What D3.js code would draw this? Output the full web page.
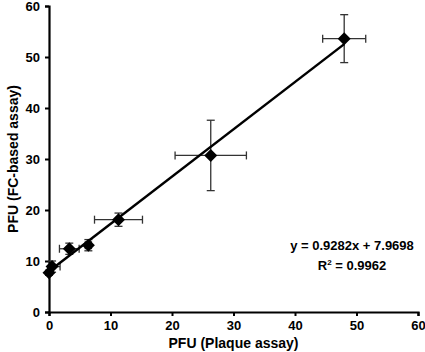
<!DOCTYPE html>
<html>
<head>
<meta charset="utf-8">
<script src="https://cdn.jsdelivr.net/npm/d3@7"></script>
<style>
  body { margin: 0; background: #fff; }
  svg text { font-family: "Liberation Sans", Arial, sans-serif; font-weight: bold; fill: #000; }
</style>
</head>
<body>
<script>
// values
var plaque = [0, 0.5, 3.3, 6.4, 11.3, 26.3, 48.0];
var fcAssay = [7.7, 8.9, 12.4, 13.1, 18.1, 30.7, 53.6];
var plaqueErr = [0.3, 1.3, 1.6, 0.5, 3.9, 5.8, 3.5];
var fcErr = [0.5, 1.1, 1.1, 1.1, 1.3, 6.9, 4.7];
var xTicks = [0, 10, 20, 30, 40, 50, 60];
var yTicks = [0, 10, 20, 30, 40, 50, 60];
var slope = 0.9282, intercept = 7.9698;

var width = 425, height = 352;
var margin = { top: 6, right: 7, bottom: 40, left: 49 };

var svg = d3.select("body")
    .append("svg")
    .attr("width", width)
    .attr("height", height);

var x = d3.scaleLinear()
    .domain([0, 60])
    .range([margin.left, width - margin.right]);

var y = d3.scaleLinear()
    .domain([0, 60])
    .range([height - margin.bottom, margin.top]);

var data = plaque.map(function (d, i) {
    return { x: d, y: fcAssay[i], ex: plaqueErr[i], ey: fcErr[i] };
});

// axes
var xAxis = svg.append("g")
    .attr("transform", "translate(0," + y(0) + ")")
    .call(d3.axisBottom(x).tickValues(xTicks).tickSize(4).tickPadding(5));

var yAxis = svg.append("g")
    .attr("transform", "translate(" + x(0) + ",0)")
    .call(d3.axisLeft(y).tickValues(yTicks).tickSize(4).tickPadding(5));

[xAxis, yAxis].forEach(function (g) {
    g.select(".domain").attr("stroke", "#000").attr("stroke-width", 2.2);
    g.selectAll(".tick line").attr("stroke", "#000").attr("stroke-width", 2);
    g.selectAll(".tick text").style("font-size", "13px").attr("fill", "#000");
});

// axis titles
svg.append("text")
    .attr("x", (x(0) + x(60)) / 2)
    .attr("y", 348)
    .attr("text-anchor", "middle")
    .style("font-size", "14px")
    .text("PFU (Plaque assay)");

svg.append("text")
    .attr("transform", "translate(18," + ((y(0) + y(60)) / 2) + ") rotate(-90)")
    .attr("text-anchor", "middle")
    .style("font-size", "14px")
    .text("PFU (FC-based assay)");

// error bars
var cap = 4;
var bars = svg.append("g")
    .attr("stroke", "#333")
    .attr("stroke-width", 1.3)
    .attr("fill", "none");

data.forEach(function (d) {
    // horizontal
    bars.append("line")
        .attr("x1", x(Math.max(0, d.x - d.ex))).attr("x2", x(d.x + d.ex))
        .attr("y1", y(d.y)).attr("y2", y(d.y));
    if (d.x - d.ex >= 0) {
        bars.append("line")
            .attr("x1", x(d.x - d.ex)).attr("x2", x(d.x - d.ex))
            .attr("y1", y(d.y) - cap).attr("y2", y(d.y) + cap);
    }
    bars.append("line")
        .attr("x1", x(d.x + d.ex)).attr("x2", x(d.x + d.ex))
        .attr("y1", y(d.y) - cap).attr("y2", y(d.y) + cap);
    // vertical
    bars.append("line")
        .attr("x1", x(d.x)).attr("x2", x(d.x))
        .attr("y1", y(d.y - d.ey)).attr("y2", y(d.y + d.ey));
    [d.y - d.ey, d.y + d.ey].forEach(function (v) {
        bars.append("line")
            .attr("x1", x(d.x) - cap).attr("x2", x(d.x) + cap)
            .attr("y1", y(v)).attr("y2", y(v));
    });
});

// regression line
var lineX = [0, d3.max(plaque)];
svg.append("line")
    .attr("x1", x(lineX[0])).attr("y1", y(slope * lineX[0] + intercept))
    .attr("x2", x(lineX[1])).attr("y2", y(slope * lineX[1] + intercept))
    .attr("stroke", "#000")
    .attr("stroke-width", 2.5);

// diamond markers
svg.selectAll(".pt")
    .data(data)
    .enter()
    .append("path")
    .attr("class", "pt")
    .attr("d", "M0,-6.5L6.5,0L0,6.5L-6.5,0Z")
    .attr("transform", function (d) { return "translate(" + x(d.x) + "," + y(d.y) + ")"; })
    .attr("fill", "#000");

// equation
var eq = svg.append("g").style("font-size", "13px");
eq.append("text")
    .attr("x", 352).attr("y", 250)
    .attr("text-anchor", "middle")
    .text("y = 0.9282x + 7.9698");
var r2 = eq.append("text")
    .attr("x", 352).attr("y", 270)
    .attr("text-anchor", "middle");
r2.append("tspan").text("R");
r2.append("tspan").attr("dy", -5).style("font-size", "8px").text("2");
r2.append("tspan").attr("dy", 5).text(" = 0.9962");
</script>
</body>
</html>
